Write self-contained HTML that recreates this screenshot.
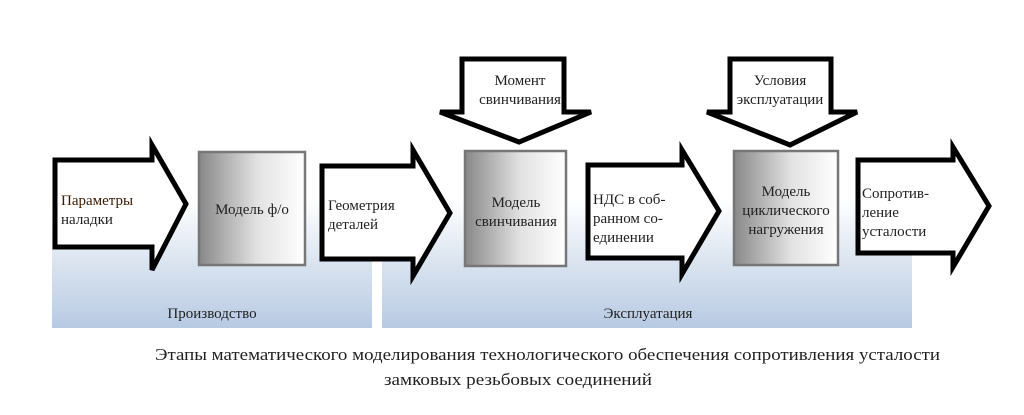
<!DOCTYPE html>
<html><head><meta charset="utf-8"><style>html,body{margin:0;padding:0;background:#fff}svg{display:block}</style></head>
<body>
<svg width="1024" height="415" viewBox="0 0 1024 415" xmlns="http://www.w3.org/2000/svg" font-family="Liberation Serif, serif">
<defs>
<linearGradient id="bl" x1="0" y1="0" x2="0" y2="1">
<stop offset="0" stop-color="#ffffff"/><stop offset="0.45" stop-color="#dde6f1"/><stop offset="1" stop-color="#b7cae3"/>
</linearGradient>
<linearGradient id="gb" x1="0" y1="0" x2="1" y2="0">
<stop offset="0" stop-color="#888888"/><stop offset="0.55" stop-color="#e2e2e2"/><stop offset="1" stop-color="#ffffff"/>
</linearGradient>
</defs>
<rect x="52" y="200" width="320" height="128" fill="url(#bl)"/>
<rect x="382" y="200" width="530" height="128" fill="url(#bl)"/>
<g fill="#fff" stroke="#000" stroke-width="5" stroke-linejoin="miter">
<polygon points="55,160 152,160 152,145 186,204 152,270 152,247 55,247"/>
<polygon points="322,166 413,166 413,150 450,213 413,276 413,259 322,259"/>
<polygon points="588,165 682,165 682,150 719,211 682,274 682,258 588,258"/>
<polygon points="858,160 953,160 953,147 989,206 953,267 953,253 858,253"/>
<polygon points="462,59 564,59 564,112 591,112 519,142 440,112 462,112"/>
<polygon points="730,59 831,59 831,112 857,112 790,145 707,112 730,112"/>
</g>
<g stroke="#777" stroke-width="2.5" fill="url(#gb)">
<rect x="199" y="152" width="106" height="113"/>
<rect x="465" y="151" width="101" height="115"/>
<rect x="734" y="151" width="104" height="114"/>
</g>
<g font-size="15" fill="#222">
<text x="61" y="205" fill="#3a1a00">Параметры</text><text x="61" y="224">наладки</text>
<text x="252" y="214" text-anchor="middle">Модель ф/о</text>
<text x="328" y="210">Геометрия</text><text x="328" y="229">деталей</text>
<text x="516" y="207" text-anchor="middle">Модель</text><text x="516" y="226" text-anchor="middle">свинчивания</text>
<text x="593" y="204">НДС в соб-</text><text x="593" y="223">ранном со-</text><text x="593" y="242">единении</text>
<text x="786" y="196" text-anchor="middle">Модель</text><text x="786" y="215" text-anchor="middle">циклического</text><text x="786" y="234" text-anchor="middle">нагружения</text>
<text x="862" y="198">Сопротив-</text><text x="862" y="217">ление</text><text x="862" y="236">усталости</text>
<text x="520" y="85" text-anchor="middle">Момент</text><text x="520" y="104" text-anchor="middle">свинчивания</text>
<text x="780" y="85" text-anchor="middle">Условия</text><text x="780" y="104" text-anchor="middle">эксплуатации</text>
<text x="212" y="318" text-anchor="middle">Производство</text>
<text x="648" y="318" text-anchor="middle">Эксплуатация</text>
</g>
<g font-size="17" fill="#222">
<text x="155" y="360" textLength="785" lengthAdjust="spacingAndGlyphs">Этапы математического моделирования технологического обеспечения сопротивления усталости</text>
<text x="384" y="385" textLength="268" lengthAdjust="spacingAndGlyphs">замковых резьбовых соединений</text>
</g>
</svg>
</body></html>
